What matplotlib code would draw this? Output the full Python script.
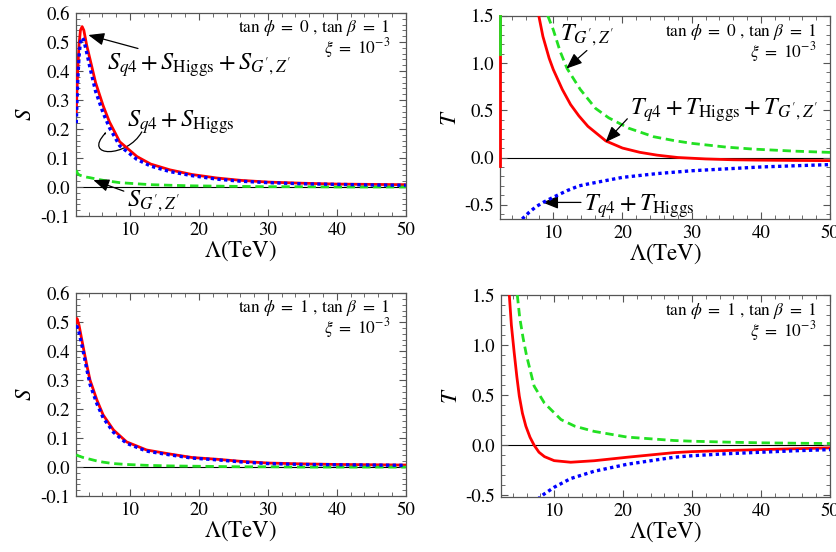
import numpy as np
import matplotlib
matplotlib.use("Agg")
import matplotlib.pyplot as plt
from matplotlib.ticker import MultipleLocator, AutoMinorLocator, FormatStrFormatter
from matplotlib.patches import FancyArrowPatch
from matplotlib.path import Path

plt.rcParams['font.family'] = 'STIXGeneral'
plt.rcParams['mathtext.fontset'] = 'stix'

# ---- S, tan(phi)=0 ----
s0_x = [2.2, 2.4, 2.6, 2.8, 3.05, 3.3, 3.7, 4.2, 5.0, 6.1, 7.0, 8.5, 11.0, 13.0, 15.8, 19.0, 22.6, 26.0, 30.0, 35.0, 40.0, 45.0, 50.0]
s0_tot = [0.26, 0.40, 0.49, 0.54, 0.553, 0.54, 0.49, 0.44, 0.36, 0.28, 0.225, 0.156, 0.105, 0.079, 0.059, 0.043, 0.031, 0.023, 0.017, 0.013, 0.010, 0.009, 0.008]
s0_qh = [0.22, 0.36, 0.45, 0.50, 0.515, 0.505, 0.465, 0.41, 0.33, 0.255, 0.205, 0.142, 0.095, 0.072, 0.053, 0.039, 0.027, 0.020, 0.015, 0.011, 0.009, 0.007, 0.006]
s0_gz = [0.058, 0.046, 0.042, 0.040, 0.038, 0.036, 0.034, 0.032, 0.028, 0.023, 0.020, 0.015, 0.011, 0.008, 0.006, 0.004, 0.003, 0.002, 0.001, 0.001, 0.0, 0.0, 0.0]

# ---- S, tan(phi)=1 ----
s1_x = [2.2, 2.3, 2.6, 3.2, 3.7, 4.2, 5.2, 6.1, 7.6, 9.5, 12.4, 15.8, 19.0, 22.6, 26.0, 30.0, 35.0, 40.0, 45.0, 50.0]
s1_tot = [0.50, 0.513, 0.49, 0.415, 0.355, 0.30, 0.231, 0.18, 0.128, 0.087, 0.059, 0.045, 0.033, 0.027, 0.020, 0.014, 0.011, 0.009, 0.008, 0.007]
s1_qh = [0.48, 0.485, 0.465, 0.40, 0.34, 0.285, 0.218, 0.17, 0.12, 0.082, 0.055, 0.042, 0.031, 0.025, 0.018, 0.012, 0.009, 0.008, 0.007, 0.006]
s1_gz = [0.043, 0.041, 0.038, 0.033, 0.030, 0.027, 0.021, 0.017, 0.012, 0.009, 0.006, 0.004, 0.003, 0.002, 0.001, 0.001, 0.0, 0.0, 0.0, 0.0]

# ---- T, tan(phi)=0 ----
t0_tot_x = [7.9, 8.5, 9.4, 10.0, 11.3, 12.5, 13.7, 15.0, 17.6, 20.0, 22.5, 25.0, 28.0, 32.0, 36.0, 40.0, 45.0, 50.0]
t0_tot = [1.5, 1.28, 1.05, 0.93, 0.72, 0.56, 0.44, 0.33, 0.175, 0.10, 0.055, 0.025, 0.0, -0.015, -0.024, -0.028, -0.031, -0.033]
t0_gz_x = [9.2, 10.0, 11.0, 12.0, 13.9, 16.1, 18.0, 20.9, 24.5, 27.6, 30.0, 35.0, 38.9, 45.0, 50.0]
t0_gz = [1.5, 1.35, 1.12, 0.94, 0.72, 0.52, 0.42, 0.31, 0.22, 0.177, 0.15, 0.11, 0.089, 0.067, 0.054]
t0_qh_x = [5.5, 6.5, 7.5, 8.65, 10.0, 12.0, 13.7, 15.0, 17.5, 20.0, 25.0, 30.0, 35.0, 40.0, 45.0, 50.0]
t0_qh = [-0.65, -0.58, -0.52, -0.47, -0.42, -0.35, -0.30, -0.28, -0.245, -0.21, -0.17, -0.14, -0.12, -0.10, -0.087, -0.075]
# vertical edge traces at the left boundary
t0_edge_x = [2.3, 2.3]
t0_tot_edge = [-0.09, 1.5]
t0_gz_edge = [1.1, 1.5]

# ---- T, tan(phi)=1 ----
t1_tot_x = [3.5, 3.8, 4.2, 4.6, 4.95, 5.4, 5.9, 6.5, 7.1, 7.8, 8.6, 10.0, 12.4, 15.8, 20.6, 27.4, 30.0, 35.0, 40.0, 45.0, 50.0]
t1_tot = [1.5, 1.2, 0.93, 0.68, 0.49, 0.32, 0.19, 0.08, 0.0, -0.07, -0.114, -0.154, -0.17, -0.155, -0.12, -0.074, -0.064, -0.053, -0.044, -0.035, -0.027]
t1_gz_x = [4.66, 5.0, 5.5, 6.0, 7.1, 8.6, 11.0, 13.0, 15.8, 20.6, 27.4, 30.0, 35.0, 40.0, 45.0, 50.0]
t1_gz = [1.5, 1.28, 1.07, 0.895, 0.59, 0.42, 0.256, 0.19, 0.138, 0.081, 0.047, 0.040, 0.031, 0.024, 0.020, 0.017]
t1_qh_x = [7.6, 8.5, 10.0, 12.4, 15.8, 20.6, 27.4, 30.0, 35.0, 40.0, 45.0, 50.0]
t1_qh = [-0.54, -0.49, -0.42, -0.333, -0.26, -0.19, -0.12, -0.105, -0.085, -0.07, -0.055, -0.044]

RED = '#ff0000'
GREEN = '#22e022'
BLUE = '#0000ff'
DASH = (0, (3.0, 1.7))
DOT = (0, (1.0, 1.0))


def style_axes(ax, ymajor, xlim, ylim):
    ax.set_xlim(*xlim)
    ax.set_ylim(*ylim)
    ax.xaxis.set_major_locator(MultipleLocator(10))
    ax.xaxis.set_minor_locator(AutoMinorLocator(5))
    ax.yaxis.set_major_locator(MultipleLocator(ymajor))
    ax.yaxis.set_minor_locator(AutoMinorLocator(5))
    ax.yaxis.set_major_formatter(FormatStrFormatter('%.1f'))
    ax.tick_params(which='both', direction='in', top=True, right=True,
                   color='#555555', labelsize=13.5, pad=4)
    ax.tick_params(which='major', length=5, width=0.8)
    ax.tick_params(which='minor', length=2.8, width=0.6)
    for sp in ax.spines.values():
        sp.set_color('#555555')
        sp.set_linewidth(0.9)
    ax.axhline(0, color='black', lw=0.8, zorder=1)
    ax.set_xlabel(r'$\Lambda(\mathrm{TeV})$', fontsize=16.5, labelpad=0)


def corner(ax, tphi, x, y1, y2):
    ax.text(x, y1, r'$\tan\,\phi\ =\ %d\ ,\,\tan\,\beta\ =\ 1$' % tphi, transform=ax.transAxes,
            ha='right', va='center', fontsize=12.5)
    ax.text(x, y2, r'$\xi\ =\ 10^{-3}$', transform=ax.transAxes,
            ha='right', va='center', fontsize=12.5)


arrow_kw = dict(arrowstyle='-|>,head_length=0.55,head_width=0.22', color='black', lw=0.9,
                shrinkA=0, shrinkB=0)
LBL = 17.5

fig = plt.figure(figsize=(8.37, 5.52), dpi=100)
ax1 = fig.add_axes([0.0908, 0.6087, 0.394, 0.3678])
ax2 = fig.add_axes([0.5974, 0.6033, 0.3943, 0.3683])
ax3 = fig.add_axes([0.0908, 0.1014, 0.394, 0.3672])
ax4 = fig.add_axes([0.5986, 0.0991, 0.393, 0.3665])

# S panels
for ax, xs, tot, qh, gz in [(ax1, s0_x, s0_tot, s0_qh, s0_gz), (ax3, s1_x, s1_tot, s1_qh, s1_gz)]:
    style_axes(ax, 0.1, (2.16, 50), (-0.1, 0.6))
    ax.plot(xs, tot, color=RED, lw=2.0, zorder=3)
    ax.plot(xs, gz, color=GREEN, lw=2.0, ls=DASH, zorder=3)
    ax.plot(xs, qh, color=BLUE, lw=2.4, ls=DOT, zorder=4)
    ax.set_ylabel(r'$S$', fontsize=16.5, labelpad=3)

corner(ax1, 0, 0.952, 0.926, 0.828)
corner(ax3, 1, 0.952, 0.926, 0.828)

ax1.annotate(r'$S_{q4}+S_{\mathrm{Higgs}}+S_{G^{\prime},Z^{\prime}}$', xy=(3.95, 0.524), xytext=(6.7, 0.42),
             fontsize=LBL, ha='left', va='center', arrowprops=arrow_kw)
ax1.text(9.5, 0.225, r'$S_{q4}+S_{\mathrm{Higgs}}$', fontsize=LBL, ha='left', va='center')
loop = Path([(11.7, 0.19), (9.6, 0.10), (3.0, 0.10), (6.6, 0.19)],
            [Path.MOVETO, Path.CURVE4, Path.CURVE4, Path.CURVE4])
ax1.add_patch(FancyArrowPatch(path=loop, **arrow_kw))
ax1.annotate(r'$S_{G^{\prime},Z^{\prime}}$', xy=(4.67, 0.024), xytext=(9.5, -0.051),
             fontsize=LBL, ha='left', va='center', arrowprops=arrow_kw)

# T panels
style_axes(ax2, 0.5, (2.3, 50), (-0.65, 1.5))
style_axes(ax4, 0.5, (2.3, 50), (-0.52, 1.5))
for ax in (ax2, ax4):
    ax.set_ylabel(r'$T$', fontsize=16.5, labelpad=3)

ax2.plot(t0_edge_x, t0_tot_edge, color=RED, lw=2.0, zorder=3, clip_on=False)
ax2.plot(t0_edge_x, t0_gz_edge, color=GREEN, lw=2.0, zorder=3, clip_on=False)
ax2.plot(t0_tot_x, t0_tot, color=RED, lw=2.0, zorder=3)
ax2.plot(t0_gz_x, t0_gz, color=GREEN, lw=2.0, ls=DASH, zorder=3)
ax2.plot(t0_qh_x, t0_qh, color=BLUE, lw=2.4, ls=DOT, zorder=4)
corner(ax2, 0, 0.96, 0.921, 0.823)

ax2.annotate(r'$T_{G^{\prime},Z^{\prime}}$', xy=(11.88, 0.94), xytext=(11.0, 1.295),
             fontsize=LBL, ha='left', va='center',
             arrowprops=dict(arrow_kw, relpos=(0.55, 0.0)))
ax2.annotate(r'$T_{q4}+T_{\mathrm{Higgs}}+T_{G^{\prime},Z^{\prime}}$', xy=(17.55, 0.162), xytext=(21.1, 0.50),
             fontsize=LBL, ha='left', va='center',
             arrowprops=dict(arrow_kw, relpos=(0.0, 0.3)))
ax2.annotate(r'$T_{q4}+T_{\mathrm{Higgs}}$', xy=(8.42, -0.475), xytext=(14.4, -0.51),
             fontsize=LBL, ha='left', va='center',
             arrowprops=dict(arrow_kw, relpos=(0.0, 0.62)))

ax4.plot(t1_tot_x, t1_tot, color=RED, lw=2.0, zorder=3)
ax4.plot(t1_gz_x, t1_gz, color=GREEN, lw=2.0, ls=DASH, zorder=3)
ax4.plot(t1_qh_x, t1_qh, color=BLUE, lw=2.4, ls=DOT, zorder=4)
corner(ax4, 1, 0.96, 0.921, 0.823)

fig.savefig('out.png', dpi=100)
